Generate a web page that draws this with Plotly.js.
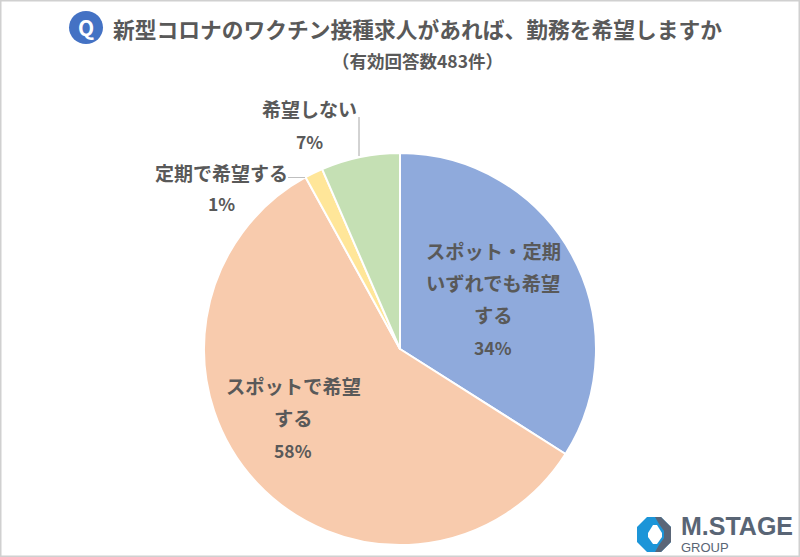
<!DOCTYPE html>
<html><head><meta charset="utf-8">
<script src="https://cdn.plot.ly/plotly-3.0.1.min.js"></script>
<style>html,body{margin:0;padding:0;background:#fff}</style></head>
<body><div id="chart" style="width:800px;height:557px"></div>
<script>
const categories = ["スポット・定期いずれでも希望する","スポットで希望する","定期で希望する","希望しない"];
const seriesValues = [34, 58, 1.5, 6.5];
const displayPercents = ["34%","58%","1%","7%"];
const sliceColors = ["#8FAADC","#F8CBAD","#FFE699","#C5E0B4"];
const titleText = "新型コロナのワクチン接種求人があれば、勤務を希望しますか";
const subtitleText = "（有効回答数483件）";
const W=800,H=557;
const px=x=>x/W, py=y=>1-y/H;
const FONT='"Noto Sans CJK JP", sans-serif';
const LOGOFONT='"Liberation Sans", sans-serif';
const GREY='#595959';
function note(text,x,y,size,bold,color,anchor,family){
  return {text:bold?'<b>'+text+'</b>':text,x:px(x),y:py(y),xref:'paper',yref:'paper',showarrow:false,
    xanchor:anchor||'center',yanchor:'middle',align:'center',font:{family:family||FONT,size:size,color:color||GREY}};
}
const annotations=[
  note(titleText,111,28,21.75,true,GREY,'left'),
  note(subtitleText,417,61,17.5,true,GREY),
  note('Q',86,27,21,true,'#ffffff'),
  note('スポット・定期',493,251,19.3,true),
  note('いずれでも希望',493,283,19.3,true),
  note('する',493,315,19.3,true),
  note(displayPercents[0],493,347,17.5,true),
  note('スポットで希望',293,386,19.3,true),
  note('する',293,418,19.3,true),
  note(displayPercents[1],293,450,17.5,true),
  note('定期で希望する',221,172,19,true),
  note(displayPercents[2],221,204,17.5,true),
  note('希望しない',309,109,19,true),
  note(displayPercents[3],309,141,17.5,true),
  note('M.STAGE',679,526,25,true,'#596575','left',LOGOFONT),
  note('GROUP',679,547.5,13,false,'#596575','left',LOGOFONT)
];
function line(x0,y0,x1,y1,c,w){return {type:'line',xref:'paper',yref:'paper',x0:px(x0),y0:py(y0),x1:px(x1),y1:py(y1),line:{color:c,width:w}};}
function poly(pts,c){return {type:'path',xref:'paper',yref:'paper',
  path:'M'+pts.map(p=>px(p[0]).toFixed(5)+','+py(p[1]).toFixed(5)).join(' L')+' Z',fillcolor:c,line:{width:0}};}
const shapes=[
  {type:'rect',xref:'paper',yref:'paper',x0:px(0.5),y0:py(0.5),x1:px(799.5),y1:py(556.5),line:{color:'#D0D0D0',width:2},fillcolor:'rgba(0,0,0,0)',layer:'below'},
  {type:'circle',xref:'paper',yref:'paper',x0:px(69),y0:py(11),x1:px(103),y1:py(44),fillcolor:'#4472C4',line:{width:0},layer:'below'},
  line(359,117,359,156,'#A6A6A6',1),
  line(288,177.5,305,177.5,'#BFBFBF',1),
  poly([[647,517],[661,517],[671,527],[671,542],[661,552],[647,552],[637,542],[637,527]],'#1C95D8'),
  poly([[655,517],[661,517],[671,527],[671,542],[661,552],[655,552],[659,545],[664,538],[664,531],[659,524]],'#5A6678'),
  poly([[653,525],[657,525],[662,533],[662,537],[657,544],[653,544],[648,537],[648,533]],'#ffffff')
];
const trace={type:'pie',labels:categories,values:seriesValues,sort:false,direction:'clockwise',rotation:0,
  marker:{colors:sliceColors,line:{color:'#ffffff',width:2}},textinfo:'none',hoverinfo:'label+percent',showlegend:false,
  domain:{x:[px(204),px(596)],y:[py(545),py(153)]}};
Plotly.newPlot('chart',[trace],{width:W,height:H,margin:{l:0,r:0,t:0,b:0},paper_bgcolor:'#fff',showlegend:false,
  annotations:annotations,shapes:shapes},{displayModeBar:false,responsive:false});
</script></body></html>
